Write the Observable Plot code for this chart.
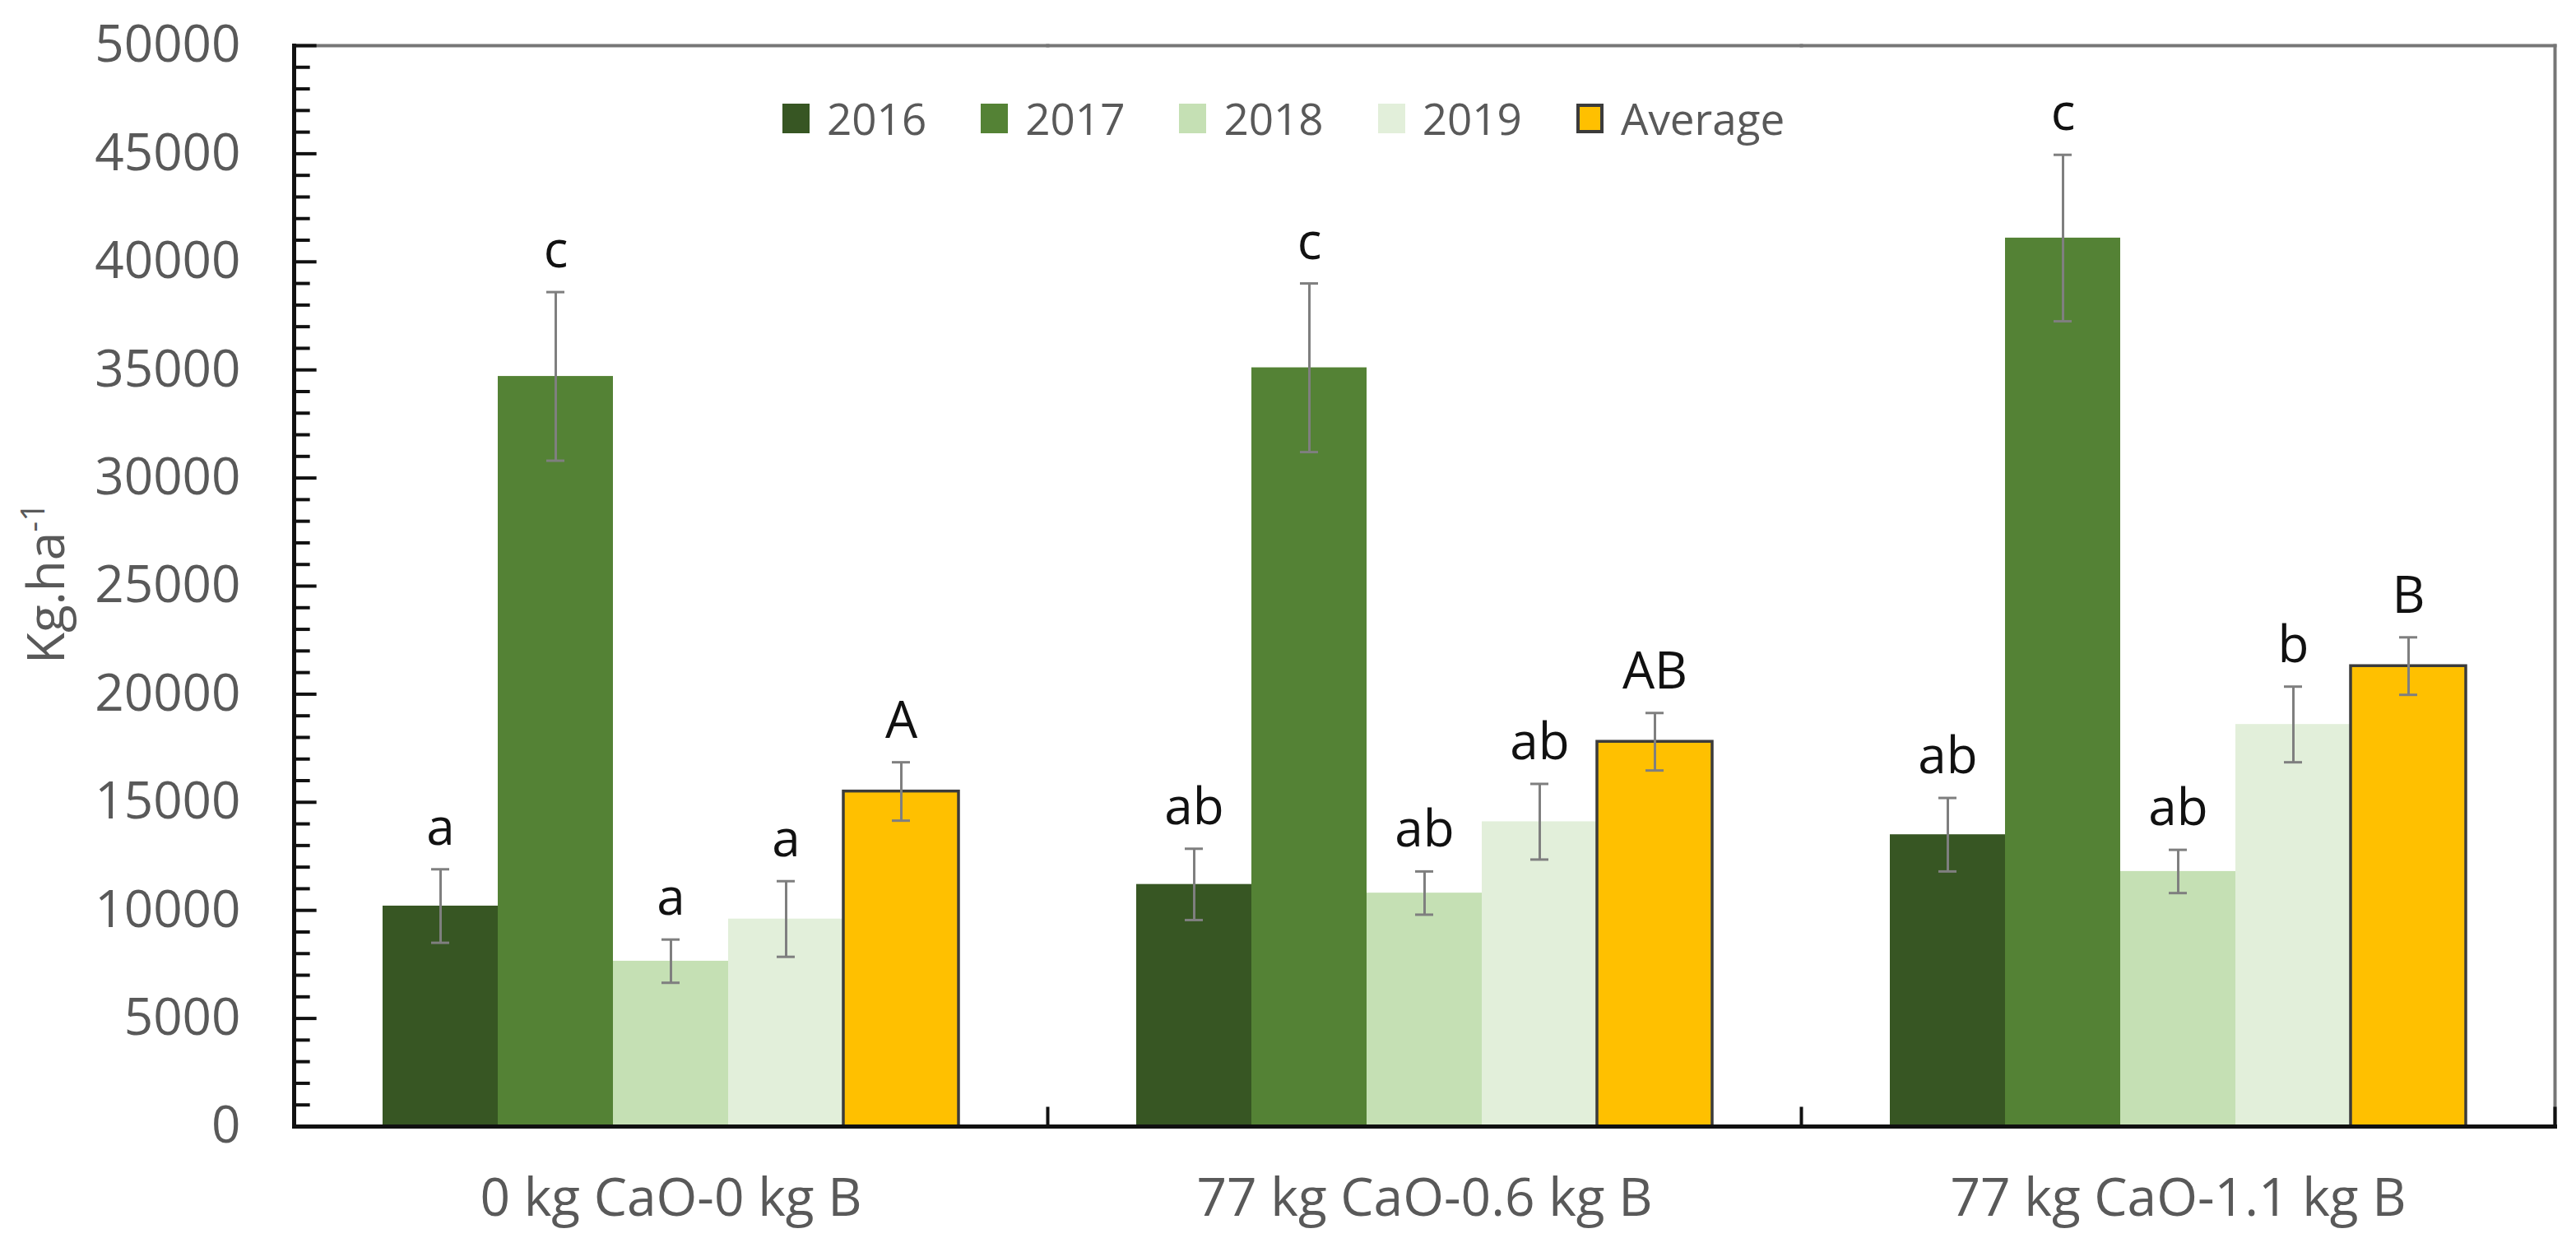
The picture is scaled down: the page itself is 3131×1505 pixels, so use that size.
<!DOCTYPE html>
<html>
<head>
<meta charset="utf-8">
<script src="https://cdn.jsdelivr.net/npm/d3@7"></script>
<script src="https://cdn.jsdelivr.net/npm/@observablehq/plot@0.6"></script>
<style>
  html, body { margin: 0; padding: 0; background: #fff; }
  #wrap { position: relative; width: 3131px; height: 1505px; font-family: "Open Sans", sans-serif; }
  #legend { position: absolute; left: 951px; top: 117px; display: flex; align-items: center; }
  .item { display: flex; align-items: center; margin-right: 66px; }
  .sw { width: 33px; height: 36px; margin-right: 21px; box-sizing: border-box; }
  .lab { font-size: 53px; line-height: 53px; color: #595959; }
</style>
</head>
<body>
<div id="wrap"><div id="legend"></div></div>
<script>
// ---- data ----
const groups = ["0 kg CaO-0 kg B", "77 kg CaO-0.6 kg B", "77 kg CaO-1.1 kg B"];
const series = ["2016", "2017", "2018", "2019", "Average"];
const v2016 = [10200, 11200, 13500];
const v2017 = [34700, 35100, 41100];
const v2018 = [7650, 10800, 11800];
const v2019 = [9600, 14100, 18600];
const vAvg  = [15500, 17800, 21300];
const e2016 = [1700, 1650, 1700];
const e2017 = [3900, 3900, 3850];
const e2018 = [1000, 1000, 1000];
const e2019 = [1750, 1750, 1750];
const eAvg  = [1350, 1330, 1330];
const l2016 = ["a", "ab", "ab"];
const l2017 = ["c", "c", "c"];
const l2018 = ["a", "ab", "ab"];
const l2019 = ["a", "ab", "b"];
const lAvg  = ["A", "AB", "B"];
const yTicks = [0, 5000, 10000, 15000, 20000, 25000, 30000, 35000, 40000, 45000, 50000];
const colors = ["#375623", "#548235", "#c5e0b4", "#e2efda", "#ffc000"];

const vals = [v2016, v2017, v2018, v2019, vAvg];
const errs = [e2016, e2017, e2018, e2019, eAvg];
const lets = [l2016, l2017, l2018, l2019, lAvg];
const rows = [];
groups.forEach((g, i) => series.forEach((s, j) => rows.push({group: g, series: s, value: vals[j][i], err: errs[j][i], letter: lets[j][i]})));
const minorTicks = d3.range(0, 50001, 1000).filter(d => d % 5000 !== 0);

// ---- layout ----
const W = 3131, H = 1505;
const mL = 356, mR = 26, mT = 55, mB = 136;
const fw = (W - mL - mR) / groups.length;
const ph = H - mT - mB;

const chart = Plot.plot({
  width: W, height: H,
  marginLeft: mL, marginRight: mR, marginTop: mT, marginBottom: mB,
  style: {fontFamily: "Open Sans, sans-serif", background: "transparent", overflow: "visible"},
  fx: {domain: groups, padding: 0, label: null},
  x: {domain: series, paddingInner: 0, paddingOuter: 0.753, axis: null},
  y: {domain: [0, 50000], label: null},
  color: {domain: series, range: colors},
  marks: [
    Plot.barY(rows, {fx: "group", x: "series", y: "value", fill: "series", inset: 0}),
    Plot.barY(rows.filter(d => d.series === "Average"), {fx: "group", x: "series", y: "value", fill: "none", stroke: "#3b3b3b", strokeWidth: 3.5, inset: 0}),
    Plot.ruleX(rows, {fx: "group", x: "series", y1: d => d.value - d.err, y2: d => d.value + d.err, stroke: "#7f7f7f", strokeWidth: 3}),
    Plot.tickY(rows, {fx: "group", x: "series", y: d => d.value + d.err, stroke: "#7f7f7f", strokeWidth: 3, insetLeft: 59, insetRight: 59}),
    Plot.tickY(rows, {fx: "group", x: "series", y: d => d.value - d.err, stroke: "#7f7f7f", strokeWidth: 3, insetLeft: 59, insetRight: 59}),
    Plot.text(rows, {fx: "group", x: "series", y: d => d.value + d.err, text: "letter", lineAnchor: "bottom", dy: -30, fontSize: 62, fill: "#111"}),
    // frame
    Plot.frame({anchor: "top", stroke: "#767676", strokeWidth: 4}),
    Plot.frame({anchor: "right", facetAnchor: "right", stroke: "#767676", strokeWidth: 4}),
    Plot.frame({anchor: "right", insetTop: ph - 22, stroke: "#111", strokeWidth: 4}),
    Plot.frame({anchor: "bottom", stroke: "#111", strokeWidth: 5}),
    Plot.frame({anchor: "left", facetAnchor: "left", stroke: "#111", strokeWidth: 5}),
    // y ticks (inward)
    Plot.tickY(yTicks, {y: d => d, facetAnchor: "left", insetRight: fw - 28, stroke: "#111", strokeWidth: 4}),
    Plot.tickY(minorTicks, {y: d => d, facetAnchor: "left", insetRight: fw - 20, stroke: "#111", strokeWidth: 4}),
    Plot.axisY({ticks: yTicks, tickSize: 0, tickPadding: 65, fontSize: 62, fill: "#595959", tickFormat: d => String(d), label: null}),
    Plot.axisFx({anchor: "bottom", tickSize: 0, tickPadding: 63, fontSize: 64, fill: "#595959", label: null})
  ]
});

// y label with superscript
const yl = d3.select(chart).append("text")
  .attr("transform", "translate(78,709) rotate(-90)")
  .attr("text-anchor", "middle")
  .attr("font-family", "Open Sans, sans-serif")
  .attr("font-size", 62)
  .attr("fill", "#595959");
yl.append("tspan").text("Kg.ha");
yl.append("tspan").attr("dy", -24).attr("font-size", 40).text("-1");

const wrap = document.getElementById("wrap");
wrap.insertBefore(chart, wrap.firstChild);

// legend
const lg = d3.select("#legend");
series.forEach((s, i) => {
  const it = lg.append("div").attr("class", "item");
  if (i === series.length - 1) it.style("margin-right", "0px");
  it.append("div").attr("class", "sw")
    .style("background", colors[i])
    .style("border", s === "Average" ? "4px solid #3b3b3b" : "none");
  it.append("div").attr("class", "lab").text(s);
});
</script>
</body>
</html>
